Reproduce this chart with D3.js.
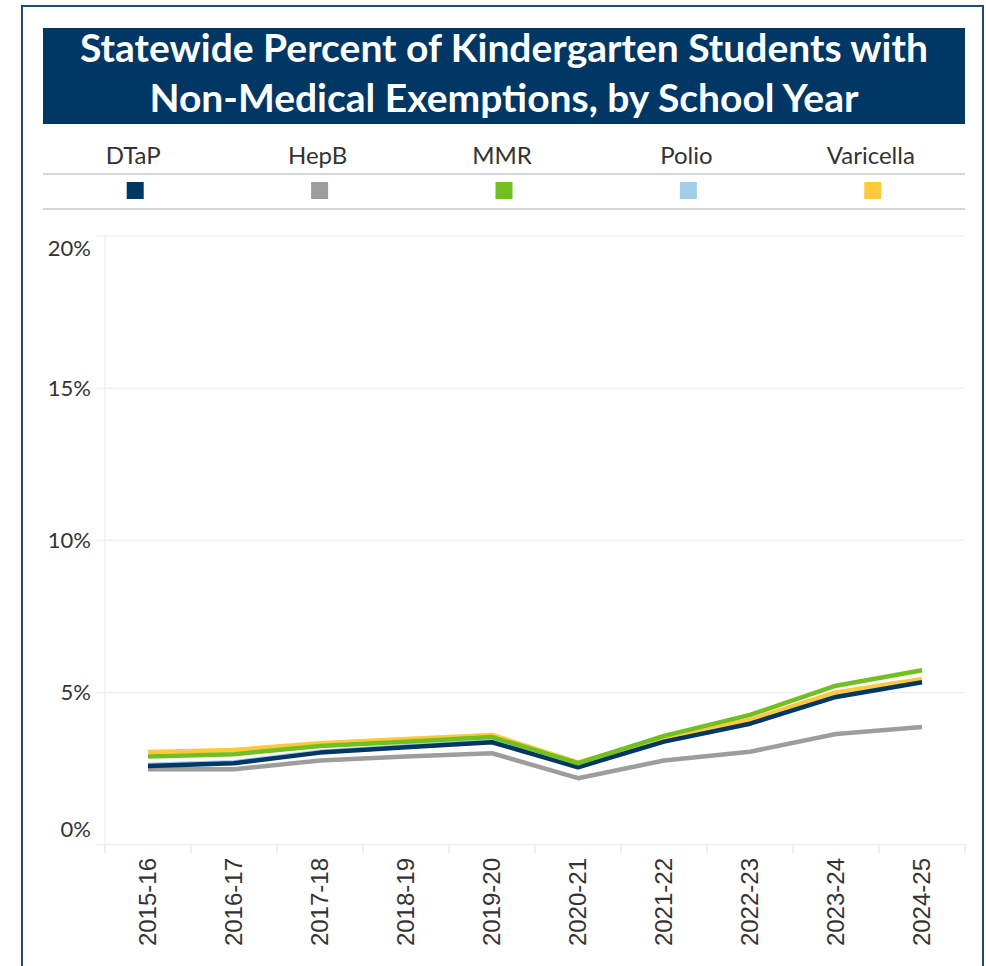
<!DOCTYPE html>
<html>
<head>
<meta charset="utf-8">
<script src="https://cdn.jsdelivr.net/npm/d3@7"></script>
<style>
  html, body { margin: 0; padding: 0; background: #fff; }
  svg { display: block; }
</style>
</head>
<body>
<svg id="chart" width="986" height="966"></svg>
<script>
const titleLines = ["Statewide Percent of Kindergarten Students with", "Non-Medical Exemptions, by School Year"];
const years = ["2015-16","2016-17","2017-18","2018-19","2019-20","2020-21","2021-22","2022-23","2023-24","2024-25"];
const seriesNames = ["DTaP","HepB","MMR","Polio","Varicella"];
const seriesColors = ["#003764","#9d9d9d","#72bf21","#9fcdea","#ffc83d"];
const dtap      = [2.58, 2.67, 3.02, 3.20, 3.36, 2.54, 3.38, 3.97, 4.85, 5.33];
const hepb      = [2.47, 2.47, 2.76, 2.89, 3.00, 2.18, 2.76, 3.05, 3.63, 3.86];
const mmr       = [2.89, 2.97, 3.24, 3.38, 3.53, 2.67, 3.57, 4.26, 5.22, 5.73];
const polio     = [2.62, 2.70, 3.05, 3.23, 3.39, 2.56, 3.40, 4.01, 4.90, 5.36];
const varicella = [3.04, 3.11, 3.33, 3.47, 3.60, 2.70, 3.50, 4.10, 5.00, 5.44];
const yTicks = [0, 5, 10, 15, 20];
const yTickLabels = ["0%","5%","10%","15%","20%"];
// drawing order (index into series): polio underneath, MMR on top
const drawOrder = [3, 4, 1, 0, 2];

const seriesValues = [dtap, hepb, mmr, polio, varicella];
const svg = d3.select("#chart");

// outer frame
svg.append("rect").attr("x", 22).attr("y", 6).attr("width", 961).attr("height", 980)
  .attr("fill", "none").attr("stroke", "#1f4a75").attr("stroke-width", 2);

// title banner
svg.append("rect").attr("x", 43).attr("y", 28).attr("width", 922).attr("height", 96).attr("fill", "#003764");
svg.append("g").selectAll("text").data(titleLines).join("text")
  .attr("x", 504).attr("y", (d, i) => 62 + i * 50)
  .attr("text-anchor", "middle")
  .attr("font-family", "Lato, 'Open Sans', sans-serif")
  .attr("font-weight", "bold").attr("font-size", 39).attr("fill", "#fff")
  .text(d => d);

// legend
const lx = d3.scaleBand().domain(seriesNames).range([43, 965]);
svg.append("line").attr("x1", 43).attr("x2", 965).attr("y1", 174).attr("y2", 174).attr("stroke", "#c8c8c8").attr("stroke-width", 1.5);
svg.append("line").attr("x1", 43).attr("x2", 965).attr("y1", 209).attr("y2", 209).attr("stroke", "#c8c8c8").attr("stroke-width", 1.5);
const lg = svg.append("g");
lg.selectAll("text").data(seriesNames).join("text")
  .attr("x", d => lx(d) + lx.bandwidth() / 2 - 2).attr("y", 164)
  .attr("text-anchor", "middle")
  .attr("font-family", "Lato, 'Open Sans', sans-serif").attr("font-size", 24).attr("fill", "#333")
  .text(d => d);
lg.selectAll("rect").data(seriesNames).join("rect")
  .attr("x", d => lx(d) + lx.bandwidth() / 2 - 8.5).attr("y", 182)
  .attr("width", 17).attr("height", 17)
  .attr("fill", (d, i) => seriesColors[i]);

// scales
const x = d3.scaleBand().domain(years).range([105, 965]);
const y = d3.scaleLinear().domain([0, 20]).range([844.5, 236]);

// gridlines
svg.append("g").selectAll("line").data(yTicks).join("line")
  .attr("x1", 96).attr("x2", 965).attr("y1", d => y(d)).attr("y2", d => y(d))
  .attr("stroke", "#efefef").attr("stroke-width", 1.5);
svg.append("line").attr("x1", 105).attr("x2", 105).attr("y1", 236).attr("y2", 853)
  .attr("stroke", "#efefef").attr("stroke-width", 1.5);
// x ticks at band boundaries
const bounds = years.map(d => x(d)).concat([x.range()[1]]);
svg.append("g").selectAll("line").data(bounds).join("line")
  .attr("x1", d => d).attr("x2", d => d).attr("y1", 844.5).attr("y2", 853)
  .attr("stroke", "#e8e8e8").attr("stroke-width", 1.5);

// y labels
svg.append("g").selectAll("text").data(yTicks).join("text")
  .attr("x", 91)
  .attr("y", (d, i) => y(d) + (d === 20 ? 12 : d === 0 ? -15 : 0))
  .attr("dy", "0.35em")
  .attr("text-anchor", "end")
  .attr("font-family", "Lato, 'Open Sans', sans-serif").attr("font-size", 22).attr("fill", "#333")
  .text((d, i) => yTickLabels[i]);

// x labels
svg.append("g").selectAll("text").data(years).join("text")
  .attr("transform", d => `translate(${x(d) + x.bandwidth() / 2},858) rotate(-90)`)
  .attr("text-anchor", "end").attr("dy", "0.35em")
  .attr("font-family", "'Liberation Sans', Arial, sans-serif").attr("font-size", 24).attr("fill", "#333")
  .text(d => d);

// lines
const line = d3.line().x((d, i) => x(years[i]) + x.bandwidth() / 2).y(d => y(d));
svg.append("g").selectAll("path").data(drawOrder).join("path")
  .attr("d", k => line(seriesValues[k]))
  .attr("fill", "none")
  .attr("stroke", k => seriesColors[k])
  .attr("stroke-width", 4.5)
  .attr("stroke-linejoin", "round");
</script>
</body>
</html>
